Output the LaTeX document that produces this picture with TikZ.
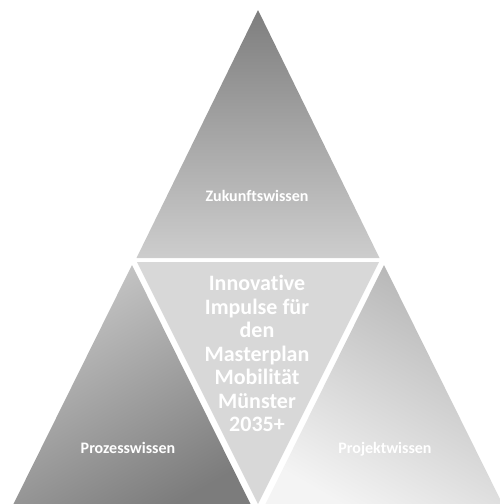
\documentclass[tikz,border=0pt]{standalone}
\usepackage{fontspec}
\setmainfont{Carlito}[Ligatures=NoCommon]
\usetikzlibrary{positioning}

\definecolor{topdark}{HTML}{7E7E7E}
\definecolor{toplight}{HTML}{CDCDCD}
\definecolor{leftlight}{HTML}{C8C8C8}
\definecolor{leftdark}{HTML}{7C7C7C}
\definecolor{rightdark}{HTML}{B4B4B4}
\definecolor{rightlight}{HTML}{F4F4F4}
\definecolor{centrefill}{HTML}{D8D8D8}

\begin{document}
\begin{tikzpicture}
                    [x=1pt, y=-1pt]
                    \tikzset{side text/.style = {text=white, anchor=base, font=\bfseries\fontsize{16}{19}\selectfont}}
                    \tikzset{core text/.style = {text=white, align=center, font=\bfseries\fontsize{22}{23.5}\selectfont}}
                    \useasboundingbox (0,0) rectangle (500,504);

                    % the three outer triangles
                    \shade[top color=topdark, bottom color=toplight]
                        (258,10) -- (379.5,258) -- (136.5,258) -- cycle;
                    \shade[top color=leftlight, bottom color=leftdark, shading angle=30]
                        (132,265) -- (254,511) -- (10,511) -- cycle;
                    \shade[top color=rightdark, bottom color=rightlight, shading angle=-30]
                        (384,265) -- (506,511) -- (262,511) -- cycle;
                    % the middle one, upside down
                    \fill[centrefill] (137,262) -- (379,262) -- (258,504) -- cycle;

                    \node[side text] (zukunft) at (257,201.5) {Zukunftswissen};
                    \node[side text] (prozess) at (128,453) {Prozesswissen};
                    \node[side text] (projekt) at (385,453) {Projektwissen};
                    \node[core text] (impulse) at (257,353.5)
                        {Innovative\\Impulse für\\den\\Masterplan\\Mobilität\\Münster\\2035+};
                \end{tikzpicture}
\end{document}
